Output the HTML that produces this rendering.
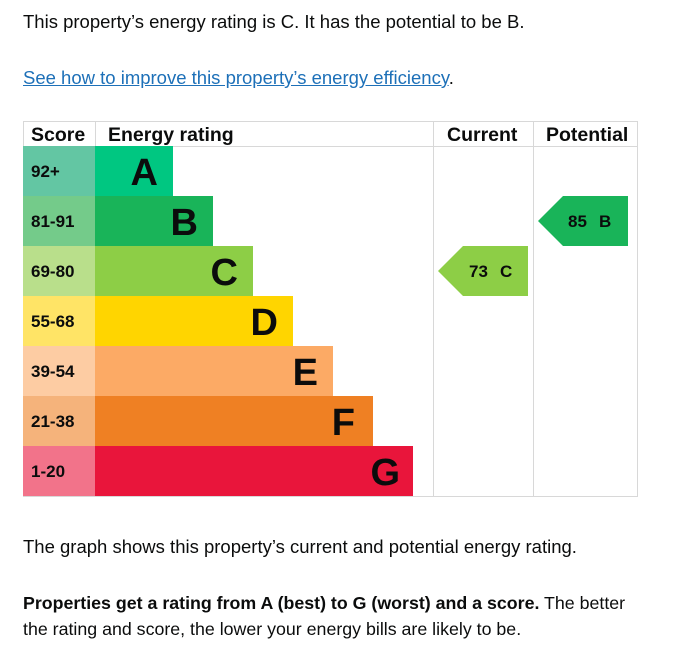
<!DOCTYPE html>
<html><head><meta charset="utf-8"><style>
body{margin:0;background:#fff;width:680px;height:645px;overflow:hidden;font-family:"Liberation Sans",sans-serif;color:#0b0c0c}
.t{position:absolute;left:23px;font-size:18.5px;white-space:nowrap}
a{color:#1d70b8;text-decoration:underline}
</style></head><body>
<div class="t" style="top:11px">This property’s energy rating is C. It has the potential to be B.</div>
<div class="t" style="top:67px"><a>See how to improve this property’s energy efficiency</a>.</div>
<svg style="position:absolute;left:0;top:0" width="680" height="645" font-family="Liberation Sans, sans-serif" font-weight="bold">
<rect x="23.5" y="121.5" width="614" height="375" fill="none" stroke="#d8d8d8"/>
<line x1="23" y1="146.5" x2="637" y2="146.5" stroke="#d8d8d8"/>
<line x1="95.5" y1="121" x2="95.5" y2="146" stroke="#d8d8d8"/>
<line x1="433.5" y1="121" x2="433.5" y2="496" stroke="#d8d8d8"/>
<line x1="533.5" y1="121" x2="533.5" y2="496" stroke="#d8d8d8"/>
<g font-size="19.5" fill="#0b0c0c">
<text x="31" y="141">Score</text><text x="108" y="141">Energy rating</text>
<text x="447" y="141">Current</text><text x="546" y="141">Potential</text></g>
<g font-size="17" fill="#0b0c0c">
<rect x="23" y="146" width="72" height="50" fill="#63c6a3"/><rect x="95" y="146" width="78" height="50" fill="#00c781"/>
<rect x="23" y="196" width="72" height="50" fill="#74cb8a"/><rect x="95" y="196" width="118" height="50" fill="#19b459"/>
<rect x="23" y="246" width="72" height="50" fill="#b9df8b"/><rect x="95" y="246" width="158" height="50" fill="#8dce46"/>
<rect x="23" y="296" width="72" height="50" fill="#ffe466"/><rect x="95" y="296" width="198" height="50" fill="#ffd500"/>
<rect x="23" y="346" width="72" height="50" fill="#fdcca3"/><rect x="95" y="346" width="238" height="50" fill="#fcaa65"/>
<rect x="23" y="396" width="72" height="50" fill="#f5b37b"/><rect x="95" y="396" width="278" height="50" fill="#ef8023"/>
<rect x="23" y="446" width="72" height="50" fill="#f2738a"/><rect x="95" y="446" width="318" height="50" fill="#e9153b"/>
<text x="31" y="177">92+</text><text x="31" y="227">81-91</text><text x="31" y="277">69-80</text>
<text x="31" y="327">55-68</text><text x="31" y="377">39-54</text><text x="31" y="427">21-38</text><text x="31" y="477">1-20</text>
</g>
<g font-size="38" fill="#0b0c0c" text-anchor="end">
<text x="158" y="185">A</text><text x="198" y="235">B</text><text x="238" y="285">C</text>
<text x="278" y="335">D</text><text x="318" y="385">E</text><text x="355" y="435">F</text><text x="400" y="485">G</text>
</g>
<polygon points="438,271 463,246 528,246 528,296 463,296" fill="#8dce46"/>
<polygon points="538,221 563,196 628,196 628,246 563,246" fill="#19b459"/>
<g font-size="17" fill="#0b0c0c"><text x="469" y="277">73</text><text x="500" y="277">C</text><text x="568" y="227">85</text><text x="599" y="227">B</text></g>
</svg>
<div class="t" style="top:536px">The graph shows this property’s current and potential energy rating.</div>
<div class="t" style="top:590px;line-height:26px;font-size:17.8px"><b>Properties get a rating from A (best) to G (worst) and a score.</b> The better<br>the rating and score, the lower your energy bills are likely to be.</div>
</body></html>
